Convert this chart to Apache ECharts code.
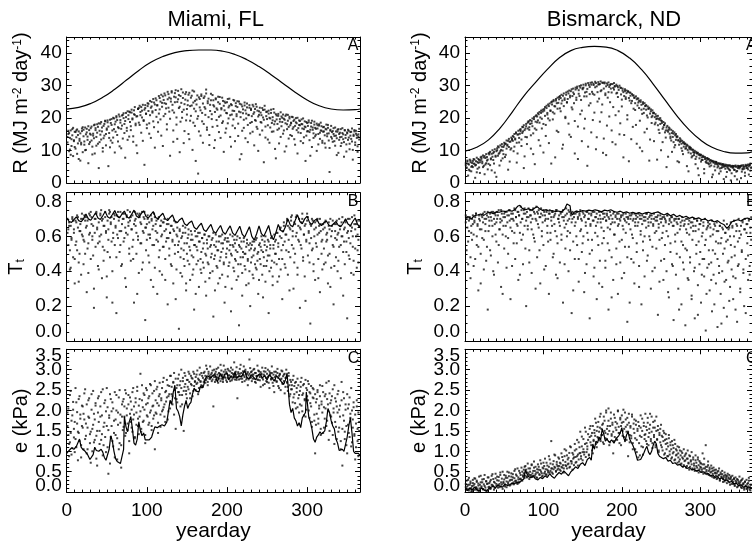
<!DOCTYPE html>
<html>
<head>
<meta charset="utf-8">
<title>Miami / Bismarck daily radiation, transmissivity, vapour pressure</title>
<script src="https://cdn.jsdelivr.net/npm/echarts@6.0.0/dist/echarts.min.js"></script>
<style>
  html, body { margin: 0; padding: 0; background: #fff; }
  #chart { width: 752px; height: 543px; }
</style>
</head>
<body>
<div id="chart"></div>
<script>
// ---- data (dots: one value per yearday, starting at day 1; two years per site) ----
const sites = ['Miami, FL', 'Bismarck, ND']
const panelLetters = ['A', 'B', 'C']

// panel A: daily radiation R (MJ m-2 day-1)
const miamiR = [
  12.5, 15.1, 9.8, 13.9, 16.2, 11.4, 14.7, 8.3, 13.2, 15.8,
  10.6, 14.1, 16.5, 12.2, 7.4, 13.6, 15.3, 11.9, 16.8, 9.5,
  14.4, 12.8, 17.1, 10.2, 15.6, 13.3, 6.1, 16.3, 12.6, 14.9,
  17.4, 11.2, 15.2, 13.8, 9.1, 16.9, 14.2, 18.1, 12.1, 4.6,
  16.1, 18.3, 13.4, 15.9, 10.8, 17.6, 14.6, 19.2, 11.6, 16.4,
  18.7, 5.2, 15.4, 19.5, 13.1, 17.9, 12.4, 20.1, 16.6, 9.4,
  18.9, 20.6, 14.8, 17.2, 21.1, 11.3, 19.4, 16.7, 20.8, 13.7,
  21.5, 18.2, 7.8, 20.3, 16.1, 22.1, 19.7, 14.3, 21.8, 17.5,
  22.6, 19.9, 12.7, 21.2, 23.4, 17.8, 20.5, 9.2, 22.9, 18.6,
  23.8, 20.9, 15.5, 22.3, 24.1, 19.1, 5.6, 23.1, 21.4, 16.9,
  24.6, 22.2, 18.4, 25.3, 13.9, 23.6, 21.7, 25.9, 17.2, 24.2,
  26.1, 20.4, 23.9, 15.8, 26.8, 22.7, 19.6, 27.2, 24.7, 11.4,
  25.6, 27.6, 21.3, 24.4, 18.1, 28.1, 23.2, 26.3, 8.4, 25.1,
  27.9, 22.4, 16.2, 26.6, 24.9, 28.6, 20.2, 13.6, 25.8, 27.1,
  23.5, 18.9, 28.9, 21.9, 26.2, 12.3, 24.3, 27.4, 19.3, 22.8,
  25.4, 15.1, 27.8, 23.7, 20.7, 26.9, 10.2, 24.8, 28.2, 17.6,
  22.1, 25.7, 19.8, 2.9, 26.4, 23.3, 14.6, 27.3, 21.6, 24.5,
  18.2, 26.7, 22.9, 28.8, 16.4, 25.2, 20.3, 11.7, 24.1, 27.5,
  21.2, 17.3, 25.5, 23.6, 13.2, 26.1, 19.4, 22.6, 24.9, 15.7,
  26.5, 20.8, 23.1, 18.5, 25.3, 9.6, 22.4, 24.7, 16.8, 21.5,
  25.9, 19.9, 23.8, 14.2, 24.3, 21.1, 17.7, 25.6, 22.2, 12.9,
  24.6, 20.6, 23.4, 18.3, 25.1, 7.3, 21.8, 24.2, 16.1, 22.7,
  19.5, 23.9, 13.8, 21.4, 24.5, 17.9, 20.9, 23.2, 15.3, 22.5,
  18.8, 24.1, 21.3, 11.6, 22.8, 19.2, 23.5, 16.7, 20.5, 22.1,
  14.9, 21.7, 18.6, 23.1, 20.2, 6.4, 22.6, 17.4, 21.9, 19.7,
  13.4, 22.3, 20.1, 17.1, 21.6, 15.8, 19.3, 22.8, 18.1, 10.5,
  21.2, 19.6, 16.4, 20.7, 12.2, 18.9, 21.8, 17.5, 20.1, 15.2,
  19.8, 9.7, 18.4, 21.1, 16.6, 19.2, 13.7, 20.4, 17.8, 18.6,
  14.5, 20.3, 17.2, 19.5, 11.8, 18.7, 16.3, 20.1, 15.6, 17.9,
  19.1, 12.9, 18.2, 16.8, 19.9, 14.1, 17.4, 6.8, 18.8, 15.9,
  17.6, 19.3, 13.2, 16.4, 18.5, 11.1, 17.1, 15.3, 18.9, 14.4,
  16.7, 9.9, 17.8, 15.1, 18.1, 13.6, 16.2, 17.5, 12.4, 15.8,
  17.3, 14.7, 10.9, 16.5, 15.2, 17.9, 13.1, 3.4, 16.1, 14.2,
  15.7, 12.7, 16.9, 14.5, 11.5, 15.9, 13.8, 16.4, 9.3, 15.1,
  14.1, 16.6, 12.3, 15.4, 13.5, 8.1, 16.2, 14.8, 11.9, 15.6,
  13.3, 16.1, 10.4, 14.6, 15.8, 12.8, 7.2, 14.9, 16.3, 11.7,
  15.2, 13.9, 9.6, 14.3, 16.7
]
const miamiR2 = [
  14.2, 16.1, 15.4, 10.3, 8.7, 13.5, 16.6, 17.0, 12.9, 11.1,
  15.7, 16.2, 9.0, 14.8, 15.9, 13.0, 6.9, 12.4, 16.0, 17.2,
  16.4, 11.8, 10.1, 15.0, 16.7, 14.3, 17.5, 12.0, 15.2, 16.9,
  13.1, 8.8, 14.6, 17.8, 18.0, 16.3, 11.5, 15.5, 17.3, 18.4,
  12.6, 14.9, 18.8, 17.1, 9.7, 13.8, 18.2, 19.0, 15.1, 16.8,
  19.3, 17.4, 13.9, 11.0, 18.5, 19.7, 16.2, 14.0, 19.9, 18.1,
  15.8, 20.2, 19.4, 12.8, 16.9, 20.5, 18.6, 10.7, 17.7, 21.0,
  20.0, 15.4, 19.1, 21.6, 17.0, 13.3, 20.9, 22.0, 18.8, 16.3,
  21.7, 19.6, 14.4, 22.4, 21.0, 18.3, 11.6, 20.6, 22.8, 23.1,
  17.9, 21.9, 23.4, 20.2, 13.0, 19.4, 22.6, 24.0, 21.3, 18.0,
  23.7, 24.4, 15.2, 20.9, 23.2, 25.0, 22.1, 19.0, 24.8, 10.9,
  22.5, 25.5, 24.0, 18.7, 21.4, 26.2, 25.1, 14.6, 23.5, 26.7,
  20.6, 24.6, 27.0, 23.0, 16.5, 25.8, 27.4, 22.0, 19.8, 26.0,
  28.3, 24.1, 12.7, 21.7, 27.7, 26.4, 18.0, 25.0, 28.4, 23.1,
  9.5, 26.8, 24.7, 20.1, 27.9, 22.6, 16.0, 25.7, 28.0, 21.1,
  24.0, 27.2, 13.5, 19.2, 26.3, 23.9, 28.5, 18.6, 22.9, 25.3,
  6.8, 24.2, 27.0, 20.6, 15.9, 25.9, 22.4, 26.8, 19.0, 12.4,
  26.2, 23.4, 21.0, 27.6, 17.1, 24.6, 26.0, 14.8, 22.2, 25.5,
  19.7, 27.1, 24.0, 10.8, 21.9, 25.8, 23.0, 17.6, 26.6, 20.4,
  24.4, 13.9, 22.7, 26.3, 19.0, 23.8, 25.1, 15.5, 21.6, 24.9,
  18.4, 23.3, 26.0, 20.9, 11.2, 24.0, 22.3, 19.6, 25.4, 16.9,
  23.7, 21.2, 25.2, 14.5, 22.0, 24.4, 20.3, 8.9, 23.6, 21.5,
  17.0, 24.8, 22.4, 19.9, 23.3, 12.6, 21.0, 24.0, 18.5, 22.9,
  20.6, 15.8, 23.6, 21.8, 19.4, 24.3, 17.3, 22.3, 9.9, 21.0,
  23.2, 18.8, 20.9, 16.2, 22.5, 19.5, 23.8, 14.0, 20.6, 22.0,
  17.8, 21.4, 12.4, 19.9, 22.6, 18.5, 20.3, 15.9, 21.7, 19.0,
  7.6, 20.8, 18.2, 21.3, 16.8, 19.7, 14.2, 20.5, 18.8, 21.1,
  16.2, 19.5, 20.7, 11.3, 18.1, 21.0, 17.3, 19.9, 14.8, 18.4,
  20.4, 16.7, 19.1, 13.5, 17.6, 20.0, 18.4, 9.1, 16.9, 19.3,
  17.8, 15.4, 19.6, 18.1, 12.3, 16.6, 19.0, 17.2, 14.6, 18.5,
  16.0, 18.7, 15.7, 8.4, 17.4, 19.2, 16.4, 13.9, 18.0, 17.0,
  14.9, 18.3, 16.8, 11.9, 17.7, 15.5, 18.6, 16.1, 13.0, 17.2,
  15.9, 12.2, 16.7, 18.0, 14.4, 17.0, 15.3, 10.8, 16.4, 17.6,
  13.7, 16.0, 15.1, 12.9, 17.1, 14.6, 8.6, 15.8, 16.6, 13.3,
  15.5, 11.4, 14.2, 16.9, 15.0, 12.6, 16.3, 13.9, 9.7, 15.3,
  16.4, 14.0, 12.1, 15.7, 13.6, 16.8, 10.2, 14.5, 15.9, 12.5,
  16.1, 14.7, 11.3, 15.0, 13.4
]
const bismarckR = [
  6.1, 4.8, 6.9, 2.3, 5.7, 7.2, 6.4, 3.6, 5.2, 6.8,
  7.4, 5.9, 1.6, 6.7, 7.8, 4.4, 6.2, 7.1, 3.1, 7.9,
  8.1, 6.6, 8.5, 5.3, 2.7, 7.7, 8.9, 6.9, 4.2, 9.1,
  8.8, 9.6, 7.3, 3.9, 10.1, 9.2, 6.0, 10.4, 8.1, 1.9,
  10.7, 11.3, 9.0, 5.4, 11.6, 10.2, 12.0, 7.6, 11.1, 12.4,
  12.1, 8.7, 13.1, 11.8, 4.1, 13.6, 12.7, 10.3, 14.0, 13.3,
  14.5, 9.8, 15.1, 13.7, 15.6, 6.3, 14.9, 16.1, 12.5, 16.4,
  16.6, 11.4, 17.3, 15.9, 17.8, 8.2, 16.8, 18.2, 14.1, 18.6,
  18.9, 17.2, 19.4, 10.6, 18.4, 19.9, 15.3, 20.3, 5.8, 20.6,
  20.9, 18.7, 21.5, 13.2, 21.9, 20.2, 22.3, 16.8, 22.6, 9.4,
  22.8, 23.4, 17.9, 23.8, 21.1, 24.2, 12.3, 24.5, 22.4, 24.9,
  25.1, 19.6, 25.6, 23.7, 7.9, 25.9, 24.6, 26.3, 15.7, 26.5,
  26.8, 22.1, 27.2, 25.4, 11.8, 27.6, 26.1, 20.4, 27.9, 24.8,
  28.2, 18.3, 28.5, 26.9, 14.2, 28.9, 22.7, 29.1, 27.4, 9.1,
  29.4, 25.6, 29.7, 17.4, 28.6, 29.9, 21.2, 30.1, 12.9, 29.2,
  30.3, 26.7, 19.8, 30.6, 28.1, 5.3, 30.8, 23.9, 29.6, 30.9,
  15.6, 31.0, 27.5, 30.2, 21.7, 31.2, 10.4, 29.8, 25.1, 31.1,
  30.4, 18.9, 31.3, 28.6, 24.2, 30.9, 13.7, 31.0, 27.1, 8.6,
  30.7, 26.3, 31.0, 20.5, 30.2, 29.1, 16.2, 30.5, 23.4, 30.8,
  29.9, 11.9, 30.3, 27.8, 29.5, 22.1, 30.0, 18.4, 29.3, 25.7,
  29.1, 28.0, 14.8, 28.9, 26.4, 28.5, 20.9, 28.3, 6.7, 27.9,
  27.8, 24.6, 27.4, 17.3, 27.0, 26.2, 22.5, 26.7, 12.1, 26.1,
  26.0, 25.3, 19.2, 25.5, 24.1, 9.8, 24.9, 21.6, 24.6, 23.8,
  24.0, 16.7, 23.6, 22.9, 23.2, 13.4, 22.7, 20.3, 22.4, 21.7,
  21.6, 18.1, 21.2, 20.6, 7.2, 20.7, 19.8, 15.4, 20.0, 19.3,
  19.1, 12.6, 18.8, 17.9, 18.4, 16.2, 4.9, 17.6, 15.8, 17.1,
  16.8, 14.3, 16.4, 9.6, 16.0, 15.2, 15.6, 11.7, 15.1, 14.4,
  14.3, 13.2, 6.4, 13.8, 13.4, 12.1, 13.0, 8.9, 12.6, 12.2,
  12.1, 10.7, 11.8, 11.5, 3.6, 11.2, 10.4, 10.8, 7.9, 10.3,
  10.2, 9.4, 9.9, 5.8, 9.6, 9.1, 9.3, 2.4, 8.9, 8.6,
  8.7, 7.1, 8.4, 8.2, 4.3, 8.0, 7.6, 6.2, 7.7, 7.3,
  7.4, 5.1, 7.1, 6.9, 1.8, 6.8, 6.4, 6.6, 3.9, 6.5,
  6.3, 5.7, 6.1, 2.9, 5.9, 6.0, 4.6, 5.8, 5.5, 1.2,
  5.7, 5.2, 5.6, 3.4, 5.5, 5.3, 4.1, 5.4, 0.8, 5.2,
  5.3, 4.7, 5.2, 2.1, 5.4, 5.0, 3.7, 5.3, 4.9, 5.1,
  5.2, 1.5, 5.4, 4.4, 5.5, 5.0, 3.2, 5.6, 5.3, 4.6,
  5.7, 2.6, 5.5, 6.0, 4.8
]
const bismarckR2 = [
  5.5, 4.6, 6.6, 5.9, 4.1, 3.8, 6.9, 5.0, 6.2, 4.9,
  6.0, 7.2, 5.4, 5.6, 3.3, 6.5, 7.4, 4.8, 6.4, 7.0,
  7.5, 6.1, 4.9, 7.9, 8.3, 5.7, 6.1, 8.0, 7.2, 5.9,
  9.3, 5.5, 7.6, 9.0, 8.1, 7.1, 9.6, 3.2, 8.4, 9.8,
  10.1, 8.4, 11.0, 9.3, 9.8, 6.9, 11.2, 10.0, 8.9, 11.6,
  8.0, 12.1, 10.6, 11.5, 13.0, 11.1, 6.6, 12.8, 10.7, 13.6,
  13.0, 14.2, 11.2, 13.4, 15.3, 12.4, 9.1, 15.0, 13.9, 15.2,
  16.0, 13.4, 15.4, 17.2, 4.6, 16.3, 14.2, 17.5, 12.0, 16.8,
  19.0, 16.4, 18.2, 14.7, 19.1, 17.5, 8.9, 19.7, 16.8, 18.9,
  16.4, 20.5, 19.3, 21.2, 18.6, 11.5, 21.6, 19.8, 22.0, 18.2,
  22.3, 20.7, 14.5, 23.1, 21.6, 19.9, 23.7, 19.3, 22.2, 6.0,
  24.2, 21.8, 25.2, 21.4, 23.6, 25.4, 16.1, 22.9, 24.7, 25.8,
  23.0, 26.2, 24.5, 10.6, 26.9, 23.7, 25.6, 20.0, 27.2, 24.9,
  25.9, 27.6, 14.9, 26.4, 28.3, 23.3, 26.8, 27.9, 24.6, 19.1,
  28.8, 26.3, 29.2, 7.4, 27.5, 26.8, 29.4, 25.6, 22.3, 28.9,
  29.4, 16.8, 27.9, 30.1, 26.7, 29.0, 11.2, 30.2, 27.4, 24.6,
  30.3, 28.1, 19.4, 30.6, 27.2, 29.5, 30.8, 14.1, 28.0, 30.4,
  26.0, 30.5, 28.3, 21.8, 30.9, 9.3, 29.1, 30.7, 27.6, 29.8,
  17.7, 30.2, 28.0, 29.6, 24.9, 30.5, 27.9, 12.6, 29.3, 28.8,
  29.7, 20.9, 27.6, 29.9, 26.5, 28.7, 15.0, 29.4, 27.3, 23.6,
  28.5, 7.9, 26.8, 28.4, 25.9, 27.7, 19.6, 28.1, 26.2, 25.4,
  26.9, 13.5, 25.3, 27.0, 22.9, 26.4, 24.6, 17.9, 25.8, 23.9,
  24.8, 23.1, 10.9, 25.0, 22.6, 21.3, 24.4, 22.9, 15.6, 23.7,
  22.6, 20.8, 20.2, 22.9, 6.9, 21.4, 22.1, 18.5, 20.7, 21.5,
  12.9, 20.3, 18.6, 19.7, 19.9, 17.8, 16.4, 19.5, 18.2, 10.1,
  18.5, 16.7, 17.2, 17.9, 15.6, 14.0, 17.1, 16.2, 8.1, 16.4,
  15.2, 13.8, 13.1, 15.4, 14.2, 12.6, 11.0, 14.7, 13.3, 14.1,
  6.7, 13.1, 11.8, 12.7, 12.9, 10.7, 9.9, 12.4, 11.2, 12.0,
  10.6, 11.3, 5.2, 10.2, 9.4, 10.8, 11.0, 9.1, 10.3, 8.3,
  9.5, 8.6, 9.3, 7.4, 8.1, 9.2, 4.5, 8.7, 7.6, 8.5,
  6.6, 7.9, 7.1, 8.0, 3.0, 7.4, 6.5, 6.9, 7.5, 6.1,
  5.8, 6.8, 6.2, 5.4, 6.7, 2.6, 6.3, 5.1, 5.9, 6.4,
  5.9, 4.8, 5.2, 6.0, 4.5, 3.6, 5.6, 4.9, 5.8, 5.0,
  5.3, 4.4, 1.9, 5.1, 4.7, 4.4, 5.4, 3.9, 5.0, 3.0,
  4.8, 5.2, 4.1, 4.0, 5.1, 3.5, 1.1, 4.6, 5.2, 4.5,
  4.9, 5.3, 3.5, 4.2, 5.0, 4.4, 2.2, 5.2, 4.6, 5.4,
  4.2, 5.1, 5.6, 3.8, 4.7
]
// clear-sky radiation curves [yearday, R]
const miamiRClear = [
  [0, 22.8], [15, 23.3], [30, 24.5], [45, 26.4], [60, 28.9], [75, 31.8], [90, 34.7],
  [105, 37.2], [120, 39.0], [135, 40.2], [150, 40.8], [165, 41.0], [180, 41.0],
  [195, 40.6], [210, 39.6], [225, 38.0], [240, 35.9], [255, 33.4], [270, 30.7],
  [285, 28.0], [300, 25.6], [315, 23.8], [330, 22.8], [345, 22.5], [360, 22.6], [366, 22.8]
]
const bismarckRClear = [
  [0, 9.8], [15, 11.0], [30, 13.3], [45, 17.0], [60, 21.8], [75, 26.8], [90, 31.0],
  [105, 35.0], [120, 38.5], [135, 40.8], [150, 41.8], [165, 42.1], [180, 41.9],
  [195, 40.8], [210, 38.5], [225, 35.0], [240, 30.5], [255, 25.6], [270, 20.8],
  [285, 16.6], [300, 13.3], [315, 11.0], [330, 9.7], [345, 9.2], [360, 9.3], [366, 9.6]
]

// panel B: transmissivity Tt
const miamiT = [
  .62, .55, .68, .41, .66, .59, .70, .48, .64, .33,
  .69, .57, .52, .71, .45, .63, .67, .38, .61, .70,
  .58, .72, .50, .65, .28, .69, .56, .73, .62, .47,
  .71, .60, .66, .19, .70, .54, .74, .64, .43, .68,
  .57, .73, .61, .36, .70, .66, .52, .74, .63, .25,
  .69, .58, .75, .48, .67, .71, .40, .62, .73, .55,
  .66, .16, .72, .59, .69, .51, .74, .63, .44, .70,
  .57, .73, .65, .31, .71, .61, .68, .53, .74, .46,
  .64, .72, .58, .22, .69, .66, .50, .73, .60, .39,
  .71, .56, .67, .74, .45, .62, .70, .12, .65, .58,
  .72, .49, .68, .61, .35, .70, .55, .66, .73, .42,
  .63, .69, .27, .57, .71, .52, .66, .60, .38, .68,
  .54, .70, .47, .64, .59, .21, .67, .53, .62, .44,
  .66, .57, .33, .63, .50, .68, .41, .60, .55, .07,
  .64, .48, .59, .37, .62, .52, .43, .65, .29, .56,
  .46, .61, .54, .35, .63, .49, .58, .41, .18, .55,
  .60, .44, .52, .62, .31, .57, .47, .39, .59, .53,
  .42, .61, .50, .26, .56, .45, .60, .36, .54, .48,
  .58, .40, .14, .55, .49, .61, .43, .52, .33, .57,
  .46, .60, .51, .38, .56, .44, .22, .59, .48, .53,
  .37, .57, .45, .61, .50, .30, .55, .42, .58, .47,
  .52, .35, .60, .44, .09, .54, .48, .57, .39, .51,
  .59, .43, .50, .32, .56, .46, .55, .40, .20, .53,
  .48, .57, .36, .52, .44, .58, .41, .50, .27, .55,
  .47, .54, .60, .38, .51, .43, .57, .34, .52, .46,
  .58, .16, .49, .55, .42, .60, .37, .53, .45, .57,
  .50, .62, .34, .56, .47, .64, .41, .59, .24, .55,
  .66, .44, .61, .52, .69, .38, .58, .65, .48, .71,
  .55, .63, .30, .68, .50, .60, .72, .42, .66, .57,
  .19, .64, .53, .70, .46, .61, .37, .67, .58, .73,
  .49, .63, .56, .10, .66, .52, .69, .44, .60, .35,
  .65, .54, .70, .47, .62, .28, .67, .57, .41, .64,
  .53, .68, .45, .61, .58, .33, .66, .50, .70, .42,
  .63, .55, .21, .67, .59, .48, .69, .40, .62, .54,
  .66, .36, .60, .71, .51, .64, .44, .68, .57, .13,
  .63, .49, .70, .56, .39, .65, .60, .46, .72, .53,
  .67, .42, .61, .58, .69
]
const miamiT2 = [
  .70, .64, .66, .52, .42, .58, .71, .69, .62, .47,
  .55, .68, .72, .65, .34, .50, .63, .70, .73, .60,
  .44, .57, .69, .71, .66, .53, .39, .61, .72, .74,
  .67, .58, .49, .30, .62, .70, .73, .65, .56, .41,
  .60, .72, .75, .69, .54, .46, .66, .71, .62, .37,
  .51, .64, .73, .74, .68, .57, .22, .59, .70, .72,
  .65, .48, .61, .74, .71, .63, .55, .43, .67, .73,
  .70, .59, .36, .62, .72, .75, .66, .50, .69, .71,
  .64, .54, .47, .67, .74, .70, .62, .27, .58, .72,
  .73, .68, .56, .41, .63, .71, .74, .65, .52, .67,
  .70, .61, .45, .59, .72, .69, .64, .31, .55, .71,
  .67, .58, .62, .70, .48, .40, .66, .69, .61, .54,
  .68, .63, .35, .57, .67, .70, .59, .49, .62, .66,
  .43, .58, .64, .69, .55, .24, .61, .65, .51, .57,
  .63, .39, .53, .60, .66, .47, .56, .62, .33, .50,
  .59, .64, .44, .52, .58, .61, .38, .48, .55, .63,
  .27, .54, .60, .46, .57, .62, .41, .51, .59, .45,
  .56, .61, .34, .49, .58, .53, .44, .60, .39, .55,
  .50, .59, .62, .47, .29, .54, .57, .42, .52, .60,
  .36, .48, .56, .61, .53, .45, .58, .31, .50, .57,
  .59, .43, .52, .55, .17, .49, .60, .54, .40, .56,
  .46, .58, .51, .37, .55, .59, .44, .53, .26, .48,
  .57, .50, .41, .54, .58, .47, .33, .52, .56, .45,
  .55, .38, .49, .57, .53, .42, .59, .46, .51, .35,
  .56, .44, .52, .58, .25, .48, .55, .60, .43, .54,
  .49, .57, .40, .53, .59, .46, .32, .55, .61, .50,
  .58, .44, .62, .54, .37, .60, .65, .52, .47, .63,
  .68, .57, .42, .61, .70, .66, .51, .29, .64, .69,
  .72, .60, .53, .45, .67, .71, .62, .38, .58, .70,
  .65, .55, .68, .73, .48, .61, .66, .23, .57, .69,
  .71, .62, .45, .67, .59, .70, .53, .40, .64, .68,
  .56, .69, .61, .36, .66, .70, .63, .50, .58, .67,
  .44, .65, .69, .57, .62, .49, .68, .64, .31, .60,
  .66, .69, .54, .43, .63, .67, .58, .61, .46, .70,
  .64, .55, .68, .60, .26, .57, .65, .69, .51, .62,
  .70, .59, .47, .66, .63, .71, .54, .38, .67, .64,
  .60, .69, .52, .45, .66
]
const bismarckT = [
  .68, .52, .71, .44, .63, .70, .36, .66, .58, .72,
  .61, .69, .47, .73, .55, .67, .29, .70, .64, .50,
  .72, .59, .68, .41, .74, .63, .70, .54, .18, .71,
  .66, .73, .49, .69, .60, .74, .38, .67, .72, .57,
  .70, .45, .75, .64, .68, .31, .73, .61, .71, .53,
  .74, .66, .42, .72, .59, .75, .69, .24, .73, .63,
  .70, .56, .76, .47, .71, .67, .74, .35, .72, .62,
  .77, .58, .70, .44, .75, .66, .73, .20, .71, .64,
  .76, .52, .72, .68, .39, .75, .61, .74, .57, .70,
  .77, .48, .73, .65, .71, .33, .76, .60, .72, .55,
  .74, .69, .43, .75, .62, .70, .27, .73, .58, .71,
  .66, .74, .50, .72, .63, .38, .75, .56, .70, .68,
  .45, .73, .61, .74, .22, .71, .65, .53, .76, .60,
  .69, .40, .74, .62, .72, .16, .70, .57, .73, .47,
  .68, .74, .55, .71, .34, .73, .63, .70, .51, .74,
  .60, .28, .72, .66, .44, .74, .58, .70, .13, .67,
  .73, .52, .69, .37, .74, .62, .71, .24, .68, .55,
  .74, .46, .70, .65, .31, .73, .59, .71, .42, .69,
  .73, .56, .18, .70, .64, .72, .48, .68, .35, .74,
  .61, .71, .53, .73, .27, .67, .70, .45, .72, .58,
  .66, .73, .39, .69, .62, .71, .11, .70, .54, .72,
  .64, .47, .73, .59, .70, .33, .68, .72, .51, .66,
  .73, .43, .70, .61, .21, .72, .57, .69, .37, .71,
  .65, .73, .49, .68, .60, .72, .30, .70, .54, .66,
  .73, .42, .69, .63, .71, .15, .67, .58, .72, .46,
  .70, .62, .35, .71, .55, .68, .40, .72, .60, .25,
  .69, .51, .71, .44, .66, .12, .70, .57, .38, .68,
  .62, .30, .70, .48, .66, .21, .69, .55, .41, .67,
  .09, .64, .52, .70, .35, .61, .45, .68, .26, .58,
  .66, .40, .13, .63, .50, .69, .32, .57, .44, .67,
  .22, .60, .47, .68, .37, .55, .06, .64, .42, .66,
  .52, .29, .65, .45, .17, .61, .38, .67, .50, .33,
  .63, .08, .56, .43, .66, .27, .59, .40, .64, .19,
  .53, .62, .35, .14, .58, .46, .65, .31, .55, .41,
  .66, .24, .60, .49, .36, .67, .11, .57, .44, .63,
  .30, .61, .52, .69, .39, .20, .64, .47, .67, .56,
  .35, .70, .43, .62, .58
]
const bismarckT2 = [
  .72, .70, .65, .57, .69, .71, .48, .62, .70, .67,
  .43, .68, .71, .73, .60, .66, .54, .72, .69, .33,
  .64, .71, .73, .58, .70, .67, .46, .72, .74, .63,
  .69, .52, .71, .74, .66, .40, .70, .73, .61, .68,
  .74, .72, .55, .64, .70, .75, .69, .27, .66, .73,
  .71, .60, .74, .68, .50, .72, .75, .65, .70, .43,
  .73, .69, .62, .75, .71, .56, .66, .74, .72, .38,
  .68, .75, .70, .61, .73, .76, .53, .69, .74, .66,
  .71, .45, .75, .72, .64, .70, .76, .59, .73, .30,
  .69, .74, .67, .75, .52, .71, .73, .63, .68, .75,
  .41, .72, .70, .74, .66, .57, .73, .75, .62, .69,
  .74, .48, .71, .67, .73, .75, .60, .36, .70, .72,
  .66, .74, .58, .71, .75, .69, .44, .72, .67, .73,
  .63, .75, .70, .52, .73, .68, .74, .29, .71, .66,
  .73, .60, .74, .70, .47, .72, .75, .64, .69, .56,
  .73, .71, .39, .68, .74, .62, .70, .73, .50, .66,
  .72, .58, .74, .69, .42, .71, .66, .73, .60, .70,
  .33, .72, .68, .74, .56, .70, .63, .73, .46, .69,
  .72, .65, .71, .52, .74, .67, .25, .70, .73, .61,
  .68, .72, .44, .70, .66, .73, .57, .69, .71, .36,
  .72, .64, .70, .54, .73, .68, .48, .71, .67, .22,
  .70, .72, .61, .69, .45, .73, .66, .70, .56, .71,
  .68, .31, .72, .63, .70, .67, .52, .71, .60, .69,
  .73, .46, .70, .66, .71, .58, .68, .72, .40, .67,
  .70, .62, .71, .53, .69, .72, .65, .34, .70, .68,
  .59, .71, .66, .47, .70, .69, .63, .72, .28, .67,
  .70, .56, .68, .71, .43, .66, .69, .61, .70, .50,
  .67, .70, .18, .64, .68, .57, .71, .45, .66, .69,
  .53, .70, .62, .36, .67, .69, .48, .65, .24, .68,
  .63, .70, .42, .66, .55, .69, .15, .64, .67, .51,
  .69, .38, .62, .66, .47, .70, .58, .27, .65, .68,
  .44, .67, .60, .35, .69, .52, .64, .21, .66, .57,
  .68, .47, .63, .39, .66, .56, .10, .65, .50, .69,
  .34, .62, .57, .67, .45, .64, .23, .60, .68, .48,
  .65, .37, .69, .54, .18, .63, .66, .43, .70, .59,
  .28, .66, .51, .68, .41, .64, .70, .16, .62, .67,
  .49, .69, .38, .65, .71
]
// upper envelope (max transmissivity) [yearday, Tt]
const miamiTMax = [
  [0, .705], [3, .685], [6, .680], [9, .695], [12, .712], [15, .690], [18, .683], [21, .700],
  [24, .728], [27, .700], [30, .692], [33, .712], [36, .735], [39, .705], [42, .697], [45, .718],
  [48, .742], [51, .712], [54, .703], [57, .725], [60, .748], [63, .715], [66, .706], [69, .728],
  [72, .745], [75, .712], [78, .704], [81, .726], [84, .750], [87, .716], [90, .707], [93, .730],
  [96, .746], [99, .713], [102, .705], [105, .725], [108, .742], [111, .708], [114, .700], [117, .718],
  [120, .732], [123, .700], [126, .690], [129, .708], [132, .722], [135, .688], [138, .678], [141, .695],
  [144, .705], [147, .672], [150, .662], [153, .678], [156, .688], [159, .652], [162, .640], [165, .660],
  [168, .675], [171, .638], [174, .628], [177, .650], [180, .668], [183, .630], [186, .618], [189, .642],
  [192, .662], [195, .625], [198, .612], [201, .638], [204, .660], [207, .620], [210, .605], [213, .632],
  [216, .658], [219, .612], [222, .595], [225, .625], [228, .655], [231, .600], [234, .578], [237, .615],
  [240, .660], [243, .615], [246, .600], [249, .630], [252, .662], [255, .605], [258, .580], [261, .620],
  [264, .668], [267, .635], [270, .625], [273, .655], [276, .700], [279, .665], [282, .655], [285, .690],
  [288, .722], [291, .685], [294, .672], [297, .700], [300, .715], [303, .680], [306, .668], [309, .690],
  [312, .700], [315, .672], [318, .662], [321, .678], [324, .688], [327, .665], [330, .658], [333, .672],
  [336, .685], [339, .662], [342, .655], [345, .675], [348, .700], [351, .670], [354, .660], [357, .685],
  [360, .705], [363, .668], [366, .650]
]
const bismarckTMax = [
  [0, .705], [4, .712], [8, .700], [12, .718], [16, .722], [20, .728], [24, .720], [28, .733],
  [32, .738], [36, .730], [40, .740], [44, .738], [48, .745], [52, .742], [56, .748], [60, .744],
  [64, .755], [67, .772], [70, .778], [73, .760], [77, .752], [81, .758], [85, .750], [89, .762],
  [92, .770], [95, .758], [99, .748], [103, .752], [107, .745], [111, .748], [115, .742], [119, .745],
  [123, .740], [127, .755], [130, .785], [132, .792], [134, .775], [135, .740], [137, .722], [139, .738],
  [142, .745], [146, .740], [150, .748], [154, .744], [158, .750], [162, .746], [166, .752], [170, .747],
  [174, .740], [178, .750], [182, .746], [186, .752], [190, .742], [194, .738], [198, .744], [202, .735],
  [206, .740], [210, .732], [214, .738], [218, .730], [222, .736], [226, .728], [230, .734], [234, .738],
  [238, .730], [242, .735], [246, .740], [250, .730], [254, .722], [258, .732], [262, .718], [266, .726],
  [270, .712], [274, .720], [278, .708], [282, .715], [286, .703], [290, .710], [294, .700], [298, .706],
  [302, .695], [306, .700], [310, .688], [314, .694], [318, .682], [322, .690], [326, .676], [330, .668],
  [334, .645], [337, .660], [340, .682], [344, .690], [348, .695], [352, .688], [356, .700], [360, .705],
  [364, .698], [366, .700]
]

// panel C: vapour pressure e (kPa)
const miamiE = [
  1.62, 2.05, 1.18, 2.38, 1.45, 0.92, 1.88, 2.21, 1.34, 1.72,
  2.55, 1.10, 1.96, 1.48, 2.28, 1.25, 1.80, 0.85, 2.12, 1.58,
  1.92, 2.42, 1.30, 1.68, 2.15, 1.05, 1.85, 2.30, 1.42, 0.72,
  2.02, 1.55, 2.48, 1.22, 1.78, 2.18, 1.38, 0.65, 1.95, 2.35,
  1.50, 2.10, 1.28, 1.88, 2.52, 1.15, 1.70, 2.25, 0.98, 1.62,
  2.08, 0.45, 1.82, 2.40, 1.35, 1.98, 2.20, 1.12, 1.75, 2.45,
  1.40, 2.00, 0.80, 1.65, 2.32, 1.20, 1.90, 0.60, 2.15, 1.52,
  2.28, 1.85, 2.50, 1.45, 2.05, 1.68, 2.38, 0.95, 1.92, 2.22,
  1.58, 2.45, 1.78, 2.10, 1.32, 2.30, 1.95, 2.58, 1.62, 2.12,
  1.85, 2.90, 1.48, 2.25, 1.72, 2.42, 2.02, 1.40, 2.55, 1.88,
  2.18, 1.65, 2.35, 1.95, 2.62, 1.52, 2.10, 1.80, 2.48, 1.05,
  2.25, 1.92, 2.58, 1.70, 2.12, 2.40, 1.60, 2.30, 1.98, 2.70,
  2.08, 1.85, 2.45, 2.22, 2.75, 1.78, 2.35, 2.60, 2.05, 2.85,
  2.40, 2.15, 2.68, 2.92, 2.30, 1.55, 2.55, 2.20, 2.78, 2.45,
  2.62, 2.10, 3.00, 2.38, 2.72, 1.50, 2.58, 2.85, 2.48, 2.30,
  2.75, 2.52, 2.90, 2.42, 2.65, 2.80, 2.35, 2.95, 2.60, 2.70,
  2.50, 2.88, 2.68, 2.78, 2.55, 3.05, 2.72, 2.62, 2.85, 2.58,
  2.92, 2.75, 2.68, 3.10, 2.80, 2.70, 2.95, 2.85, 2.78, 2.88,
  2.72, 2.98, 2.10, 2.82, 2.90, 2.75, 3.02, 2.80, 2.68, 2.92,
  2.85, 3.12, 2.78, 2.88, 2.70, 2.95, 2.82, 3.00, 2.74, 2.90,
  2.80, 2.98, 2.86, 2.72, 3.05, 2.92, 2.78, 2.88, 3.18, 2.82,
  2.95, 2.75, 2.30, 2.90, 2.84, 3.02, 2.78, 2.92, 2.70, 2.88,
  3.08, 2.82, 2.95, 2.76, 2.90, 2.62, 2.86, 3.25, 2.80, 2.94,
  2.72, 2.88, 3.00, 2.78, 2.92, 2.68, 2.85, 3.10, 2.75, 2.96,
  2.82, 2.58, 2.90, 3.05, 2.76, 2.88, 2.65, 2.95, 2.80, 2.70,
  3.00, 2.85, 2.55, 2.92, 2.78, 3.08, 2.68, 2.88, 2.45, 2.82,
  2.95, 2.72, 3.02, 2.60, 2.85, 2.90, 2.50, 2.78, 2.96, 2.65,
  2.88, 2.42, 2.80, 3.00, 2.70, 2.58, 2.92, 2.35, 2.75, 2.52,
  2.62, 2.20, 2.85, 2.40, 2.68, 2.05, 2.55, 2.78, 2.30, 1.95,
  2.48, 2.70, 2.12, 2.38, 2.62, 1.88, 2.28, 2.75, 2.02, 2.50,
  2.25, 2.65, 1.82, 2.42, 2.10, 1.60, 2.55, 2.30, 1.75, 0.95,
  2.20, 1.92, 2.45, 1.68, 2.05, 2.35, 1.55, 2.15, 2.60, 1.45,
  2.08, 1.80, 2.40, 1.62, 2.28, 1.98, 2.72, 1.50, 2.18, 1.85,
  2.35, 1.40, 2.05, 2.62, 1.72, 2.22, 1.30, 1.95, 2.48, 1.58,
  2.12, 1.25, 2.70, 0.65, 1.88, 2.30, 1.48, 2.02, 1.15, 2.40,
  1.65, 2.15, 1.35, 1.92, 2.55, 1.22, 1.78, 2.08, 1.42, 1.90,
  1.10, 2.25, 1.55, 0.88, 1.72
]
const miamiE2 = [
  1.95, 1.40, 0.88, 1.22, 2.48, 1.75, 1.08, 2.02, 1.55, 0.98,
  1.30, 2.20, 1.68, 0.78, 1.45, 2.35, 1.90, 1.15, 1.62, 2.10,
  1.05, 1.78, 2.52, 1.38, 0.95, 1.58, 2.25, 1.82, 1.20, 1.48,
  2.40, 1.00, 1.65, 1.92, 1.28, 2.12, 0.82, 1.50, 2.30, 1.72,
  1.18, 1.85, 2.45, 1.42, 0.90, 1.60, 2.18, 1.35, 1.98, 2.55,
  1.10, 1.52, 1.88, 0.70, 2.28, 1.62, 1.25, 2.05, 1.45, 0.85,
  1.78, 2.38, 1.32, 1.95, 1.05, 2.50, 1.70, 1.15, 1.85, 2.22,
  1.60, 2.10, 1.38, 2.42, 1.88, 1.52, 2.15, 1.25, 2.32, 1.72,
  2.02, 1.48, 2.55, 1.90, 1.35, 2.20, 1.65, 2.48, 1.80, 1.42,
  2.28, 1.98, 1.55, 2.62, 2.08, 1.75, 2.38, 1.20, 2.15, 2.50,
  1.85, 2.30, 1.70, 2.65, 2.00, 1.62, 2.42, 2.12, 1.88, 2.72,
  1.95, 2.52, 2.18, 1.45, 2.35, 2.68, 1.90, 2.25, 2.55, 2.02,
  2.80, 2.15, 1.72, 2.48, 2.32, 2.62, 1.98, 2.40, 2.85, 2.20,
  2.58, 2.35, 2.70, 1.90, 2.50, 2.78, 2.28, 2.62, 2.45, 2.88,
  2.38, 2.72, 2.55, 2.15, 2.80, 2.48, 2.92, 2.65, 2.40, 2.75,
  2.58, 2.95, 2.70, 2.30, 2.85, 2.62, 2.78, 2.48, 2.90, 2.72,
  2.82, 2.65, 2.98, 2.40, 2.75, 2.88, 2.70, 2.92, 2.60, 2.80,
  2.70, 2.95, 2.85, 2.75, 3.02, 2.62, 2.90, 2.78, 3.08, 2.82,
  2.92, 2.76, 2.86, 3.00, 2.70, 2.95, 2.82, 2.88, 3.05, 2.78,
  2.90, 2.72, 2.98, 2.84, 2.76, 3.10, 2.88, 2.80, 2.94, 2.70,
  3.02, 2.86, 2.78, 2.96, 2.82, 2.74, 3.00, 2.90, 2.84, 2.76,
  2.88, 3.06, 2.82, 2.94, 2.76, 2.90, 3.12, 2.84, 2.78, 2.96,
  2.86, 2.72, 3.00, 2.88, 2.80, 2.94, 2.76, 2.90, 3.04, 2.82,
  2.96, 2.78, 2.88, 3.02, 2.70, 2.92, 2.84, 2.76, 2.98, 2.86,
  2.74, 2.94, 2.88, 2.80, 2.62, 2.96, 2.85, 3.04, 2.72, 2.90,
  2.82, 2.68, 2.96, 2.88, 2.76, 2.92, 2.80, 2.60, 2.95, 2.74,
  2.86, 2.70, 2.92, 2.80, 2.55, 2.88, 2.76, 2.98, 2.66, 2.84,
  2.72, 2.90, 2.58, 2.80, 2.68, 2.48, 2.85, 2.62, 2.40, 2.70,
  2.52, 2.75, 2.32, 2.60, 2.18, 2.70, 2.45, 2.08, 2.62, 2.38,
  2.15, 2.58, 2.80, 1.98, 2.42, 2.65, 2.25, 1.85, 2.55, 2.35,
  2.72, 2.00, 2.45, 2.18, 2.60, 1.72, 2.32, 2.52, 1.90, 2.40,
  1.65, 2.28, 2.50, 1.80, 2.12, 2.62, 1.40, 2.22, 1.95, 2.45,
  1.58, 2.35, 2.05, 2.68, 1.75, 2.15, 1.28, 2.42, 1.88, 2.25,
  1.70, 2.52, 1.95, 1.18, 2.30, 1.60, 2.10, 2.40, 1.48, 2.02,
  1.85, 1.05, 2.25, 1.55, 2.45, 1.75, 1.30, 2.15, 1.62, 0.95,
  2.05, 1.45, 2.32, 1.82, 1.12, 2.00, 1.58, 2.20, 1.38, 0.80,
  1.68, 2.10, 1.25, 1.95, 1.50
]
const bismarckE = [
  .12, .28, .05, .18, .35, .08, .22, .02, .15, .30,
  .06, .20, .33, .10, .25, .04, .16, .38, .09, .24,
  .14, .31, .07, .19, .42, .11, .27, .03, .21, .36,
  .13, .26, .09, .40, .17, .32, .06, .23, .45, .15,
  .29, .11, .37, .20, .48, .14, .33, .08, .25, .42,
  .18, .35, .12, .50, .24, .39, .16, .30, .46, .21,
  .36, .19, .52, .27, .43, .22, .58, .31, .25, .47,
  .33, .60, .28, .41, .55, .35, .64, .48, .38, .70,
  .45, .32, .58, .42, .66, .37, .52, .75, .40, .62,
  .48, .35, .68, .55, .44, .78, .50, .38, .60, .72,
  .46, .82, .56, .42, .65, .52, .88, .48, .70, 1.25,
  .58, .45, .76, .62, .90, .50, .68, .55, .85, .64,
  .72, .52, .95, .60, .78, .48, .88, .66, 1.02, .58,
  .80, .70, .96, .62, 1.10, .75, .55, .92, .85, 1.18,
  .72, 1.05, .88, .65, 1.22, .95, 1.48, .82, 1.12, .78,
  1.30, .98, 1.58, .86, 1.20, 1.05, 1.42, .92, 1.35, 1.62,
  1.15, 1.45, .95, 1.28, 1.52, 1.38, 1.70, 1.10, 1.60, 1.32,
  1.48, 1.85, 1.25, 1.55, 1.40, 1.68, 1.18, 1.75, 1.45, 1.95,
  1.30, 1.62, 2.05, 1.50, 1.22, 1.80, 1.42, 1.65, .95, 1.90,
  1.35, 1.72, 1.52, 1.28, 1.98, 1.60, 1.45, 1.82, 1.15, 1.70,
  1.38, 2.02, 1.55, 1.25, 1.78, 1.48, 1.65, .88, 1.92, 1.40,
  1.58, 1.32, 1.85, 1.20, 1.68, 1.45, 1.05, 1.75, 1.28, 1.55,
  .85, 1.62, 1.38, 1.88, 1.12, 1.50, .92, 1.70, 1.30, 1.42,
  1.60, 1.18, 1.82, 1.35, 1.55, 1.92, 1.25, 1.48, 1.08, 1.72,
  1.40, 1.58, 1.15, 1.85, 1.30, 1.52, .98, 1.45, 1.22, 1.65,
  1.10, 1.35, 1.50, .92, 1.28, 1.42, 1.05, 1.20, .88, 1.32,
  1.00, 1.15, .82, 1.25, .95, 1.08, .78, 1.18, .90, 1.02,
  .72, .95, 1.10, .80, .68, 1.00, .85, .62, 1.05, .76,
  .92, .60, .82, 1.02, .70, .55, .88, .75, .98, .58,
  .80, .65, .52, .90, .72, .60, .85, .48, .76, .62,
  .70, .55, .95, .45, .68, .58, 1.15, .50, .62, .75,
  .42, .56, .48, .65, .38, .52, .60, .35, .46, .55,
  .32, .50, .40, .58, .28, .44, .36, .52, .25, .40,
  .48, .30, .38, .22, .45, .33, .42, .18, .35, .28,
  .40, .20, .32, .15, .36, .26, .12, .30, .22, .38,
  .16, .28, .10, .33, .20, .06, .25, .14, .30, .08,
  .22, .35, .12, .04, .18
]
const bismarckE2 = [
  .20, .08, .14, .30, .04, .18, .26, .10, .02, .22,
  .16, .34, .06, .12, .28, .09, .21, .03, .18, .40,
  .11, .24, .07, .32, .15, .05, .26, .20, .36, .12,
  .22, .08, .30, .18, .44, .14, .25, .10, .34, .20,
  .38, .16, .28, .12, .42, .24, .19, .50, .22, .31,
  .14, .40, .26, .35, .20, .48, .28, .18, .38, .30,
  .44, .24, .34, .56, .28, .40, .20, .36, .52, .32,
  .42, .30, .50, .38, .46, .62, .40, .55, .36, .48,
  .58, .42, .50, .38, .68, .46, .40, .60, .52, .44,
  .36, .56, .48, .62, .42, .54, .70, .46, .40, .58,
  .64, .50, .44, .72, .55, .48, .62, .80, .52, .58,
  .48, .68, .56, .92, .60, .52, .74, .64, .58, .82,
  .55, .70, .62, .86, .66, .58, 1.05, .74, .64, .90,
  .68, .84, .60, 1.12, .76, .70, .96, .82, .66, 1.02,
  .86, .74, 1.28, .92, .80, 1.10, .96, .88, 1.36, .98,
  1.05, .92, 1.18, 1.48, .98, 1.12, 1.28, .90, 1.55, 1.22,
  1.38, 1.02, 1.62, 1.25, 1.45, 1.80, 1.18, 1.50, 1.35, 1.72,
  1.28, 1.58, 1.92, 1.40, 1.65, 1.22, 1.85, 1.50, 1.32, 2.00,
  1.55, 1.42, 1.75, 1.15, 1.62, 1.95, 1.38, 1.70, 1.48, 1.25,
  1.82, 1.58, 1.30, 1.68, 2.00, 1.45, 1.20, 1.78, 1.62, 1.88,
  1.50, 1.72, 1.35, 1.95, 1.60, 1.28, 1.82, 1.48, 1.70, 1.22,
  1.62, 1.38, 1.90, 1.05, 1.55, 1.78, 1.32, 1.65, .98, 1.50,
  1.72, 1.20, .90, 1.58, 1.35, 1.80, 1.10, 1.62, 1.40, 1.92,
  1.25, 1.52, 1.70, 1.15, 1.45, 1.65, 1.30, 1.85, 1.20, 1.58,
  1.35, 1.75, 1.10, 1.50, 1.28, 1.62, 1.02, 1.40, 1.55, 1.15,
  1.38, 1.02, 1.25, 1.45, .95, 1.18, 1.30, .88, 1.12, 1.40,
  .92, 1.22, 1.05, .85, 1.15, .98, 1.28, .80, 1.05, .92,
  1.12, .85, .75, 1.02, .90, .70, .96, .82, .66, .88,
  .78, .95, .64, .82, .72, .90, .62, .78, .68, .55,
  .85, .70, .58, .78, .64, .52, .80, .66, .56, .72,
  .60, .50, .68, .58, .82, .48, .62, .54, .44, .66,
  .52, .60, .40, .50, .58, .45, .36, .54, .48, .40,
  .46, .34, .52, .42, .30, .48, .38, .44, .32, .36,
  .26, .42, .34, .40, .28, .36, .24, .32, .38, .20,
  .30, .25, .34, .18, .28, .22, .32, .14, .26, .20,
  .24, .12, .30, .18, .22, .10, .26, .16, .08, .20,
  .14, .28, .06, .18, .10
]
// running estimate line [yearday, e]
const miamiELine = [
  [0, .95], [3, 1.02], [6, 1.08], [9, 1.05], [12, 1.12], [14, 1.08], [16, 1.30], [18, 1.10],
  [20, 1.05], [23, 1.00], [26, .92], [29, .80], [31, .78], [33, .92], [35, 1.10], [37, 1.02],
  [40, 1.00], [43, 1.05], [45, .98], [47, .85], [49, .78], [51, .80], [53, 1.05], [55, 1.38],
  [57, 1.25], [59, 1.00], [61, .82], [63, .75], [65, .78], [67, .70], [69, .72], [71, 1.05],
  [72, 1.85], [74, 1.60], [76, 1.48], [78, 1.72], [80, 1.85], [82, 1.55], [84, 1.20], [86, 1.15],
  [88, 1.30], [90, 1.72], [92, 1.50], [94, 1.38], [96, 1.45], [98, 1.28], [100, 1.30], [103, 1.28],
  [106, 1.35], [108, 1.48], [110, 1.60], [113, 1.58], [116, 1.62], [119, 1.65], [122, 1.62], [125, 1.72],
  [127, 1.70], [129, 2.25], [131, 2.15], [133, 2.45], [135, 2.62], [137, 2.05], [139, 1.98], [141, 1.85],
  [143, 1.62], [145, 1.90], [147, 2.10], [149, 2.25], [151, 2.05], [153, 2.15], [155, 2.20], [157, 2.40],
  [159, 2.55], [161, 2.48], [163, 2.52], [165, 2.45], [167, 2.60], [169, 2.55], [171, 2.62], [173, 2.78],
  [175, 2.85], [177, 2.88], [180, 2.80], [182, 2.85], [185, 2.88], [188, 2.70], [190, 2.82], [192, 2.90],
  [195, 2.78], [197, 2.88], [200, 2.92], [202, 2.75], [205, 2.85], [208, 2.80], [210, 2.95], [212, 2.78],
  [215, 2.85], [218, 2.82], [220, 2.90], [222, 2.98], [225, 2.80], [228, 2.78], [230, 2.88], [233, 2.82],
  [236, 2.75], [238, 2.85], [241, 2.90], [244, 2.80], [247, 2.85], [250, 2.75], [253, 2.88], [256, 2.80],
  [259, 2.72], [262, 2.85], [265, 2.78], [268, 2.70], [271, 2.65], [273, 2.75], [275, 2.92], [277, 2.88],
  [278, 2.15], [280, 1.95], [282, 2.05], [284, 1.82], [286, 1.75], [288, 1.62], [290, 1.70], [292, 1.58],
  [294, 1.82], [296, 1.78], [298, 1.95], [299, 2.45], [301, 2.48], [302, 1.85], [304, 1.72], [306, 1.55],
  [308, 1.30], [310, 1.22], [312, 1.35], [314, 1.40], [316, 1.48], [318, 1.42], [320, 1.38], [322, 1.50],
  [324, 1.72], [326, 2.05], [328, 1.95], [330, 1.75], [332, 1.62], [334, 1.55], [336, 1.30], [338, 1.20],
  [340, 1.02], [342, 1.00], [344, 1.05], [346, 1.00], [348, 1.02], [350, 1.35], [352, 1.62], [354, 1.82],
  [356, 1.45], [358, 1.00], [360, .95], [362, .92], [364, .95], [366, .90]
]
const bismarckELine = [
  [0, .08], [3, .04], [6, .10], [9, .05], [12, .12], [15, .06], [18, .03], [21, .10], [24, .06],
  [27, .02], [30, .08], [33, .12], [36, .15], [39, .10], [42, .18], [45, .14], [48, .12], [51, .20],
  [54, .16], [57, .18], [60, .22], [63, .20], [66, .25], [69, .22], [72, .28], [75, .32], [77, .55],
  [79, .45], [81, .38], [84, .35], [87, .40], [90, .32], [93, .30], [96, .36], [99, .33], [102, .40],
  [105, .36], [108, .45], [111, .38], [114, .34], [117, .42], [120, .48], [123, .44], [126, .52],
  [129, .46], [132, .40], [135, .50], [138, .55], [141, .62], [144, .58], [147, .68], [150, .72],
  [153, .65], [156, .80], [159, .85], [161, .78], [163, 1.18], [165, 1.05], [167, 1.25], [169, 1.20],
  [171, 1.35], [173, 1.28], [175, 1.55], [177, 1.42], [179, 1.25], [181, 1.30], [184, 1.22], [187, 1.28],
  [190, 1.20], [193, 1.32], [196, 1.38], [198, 1.45], [200, 1.58], [202, 1.35], [204, 1.25], [206, 1.40],
  [208, 1.48], [210, 1.30], [212, 1.22], [214, 1.15], [216, 1.05], [218, .92], [220, .78], [222, .76],
  [224, .80], [226, .76], [228, .95], [230, 1.05], [232, 1.12], [234, .98], [236, .92], [238, 1.00],
  [240, 1.15], [242, 1.25], [244, 1.18], [246, .95], [248, .88], [250, .90], [253, .82], [256, .85],
  [259, .76], [262, .78], [265, .70], [268, .72], [271, .66], [274, .68], [277, .62], [280, .64],
  [283, .58], [286, .60], [289, .55], [292, .56], [295, .52], [298, .54], [301, .48], [304, .50],
  [307, .44], [310, .46], [313, .40], [316, .42], [319, .36], [322, .38], [325, .32], [328, .35],
  [331, .28], [334, .30], [337, .24], [340, .26], [343, .20], [346, .22], [349, .16], [352, .18],
  [355, .12], [358, .15], [361, .10], [364, .12], [366, .08]
]

// ---- layout ----
const fontFamily = '"Liberation Sans", Arial, Helvetica, sans-serif'
const colLeft = [66.7, 465]
const colWidth = 293.3
const rowTop = [37, 192.7, 349.3]
const rowHeight = [146, 148.3, 146.4]

const dots = [
  [[miamiR, miamiR2], [miamiT, miamiT2], [miamiE, miamiE2]],
  [[bismarckR, bismarckR2], [bismarckT, bismarckT2], [bismarckE, bismarckE2]]
]
const lines = [
  [miamiRClear, miamiTMax, miamiELine],
  [bismarckRClear, bismarckTMax, bismarckELine]
]

// endLabels: the end labels of the e axis sit inside the frame, on their own axis
const yspecs = [
  {
    min: 0, max: 45, interval: 10, minor: 5, showMax: false, vMin: 'middle', gap: 35, pad: [0, 0, 0, 14],
    fmt: v => String(Math.round(v)), endLabels: false,
    name: '{t|R (MJ m}{s|-2}{t| day}{s|-1}{t|)}'
  },
  {
    min: 0, max: 0.85, interval: 0.2, minor: 4, showMax: false, vMin: 'bottom', gap: 40, pad: 0,
    fmt: v => v.toFixed(1), endLabels: false,
    name: '{t|T}{b|t}'
  },
  {
    min: 0, max: 3.5, interval: 0.5, minor: 5, showMax: null, vMin: 'bottom', gap: 35, pad: 0,
    fmt: v => (v === 0 || v === 3.5) ? '' : v.toFixed(1), endLabels: true,
    name: '{t|e (kPa)}'
  }
]

const black = { color: '#000', width: 1 }
const nameRich = {
  t: { fontSize: 20, fontFamily, color: '#000' },
  s: { fontSize: 12, fontFamily, color: '#000', verticalAlign: 'top' },
  b: { fontSize: 12, fontFamily, color: '#000', verticalAlign: 'bottom' }
}

function xAxisFor(g, row, pos) {
  const withLabels = pos === 'bottom' && row === 2
  return {
    type: 'value', gridIndex: g, position: pos,
    min: 0, max: 366, interval: 100,
    axisLine: { show: true, onZero: false, lineStyle: black },
    axisTick: { show: true, inside: true, length: 5, lineStyle: black },
    minorTick: { show: true, splitNumber: 10, length: 2.5, lineStyle: black },
    splitLine: { show: false },
    axisLabel: {
      show: withLabels, margin: 9, fontSize: 19, color: '#000', fontFamily,
      showMaxLabel: false
    },
    name: withLabels ? 'yearday' : '',
    nameLocation: 'middle', nameGap: 27,
    nameTextStyle: { fontSize: 21, color: '#000', fontFamily }
  }
}

function yAxisFor(g, row, pos) {
  const spec = yspecs[row]
  const isLeft = pos === 'left'
  return {
    type: 'value', gridIndex: g, position: pos,
    min: spec.min, max: spec.max, interval: spec.interval,
    axisLine: { show: true, onZero: false, lineStyle: black },
    axisTick: { show: true, inside: true, length: 5, lineStyle: black },
    minorTick: { show: true, splitNumber: spec.minor, length: 2.5, lineStyle: black },
    splitLine: { show: false },
    axisLabel: {
      show: isLeft, margin: 5, fontSize: 19, color: '#000', fontFamily,
      formatter: spec.fmt, showMaxLabel: spec.showMax,
      verticalAlignMinLabel: spec.vMin, verticalAlignMaxLabel: 'top'
    },
    name: isLeft ? spec.name : '',
    nameLocation: 'middle', nameGap: spec.gap,
    nameTextStyle: { color: '#000', fontFamily, padding: spec.pad, rich: nameRich }
  }
}

// extra label-only axis carrying just the bottom and top values of a panel
function endLabelAxis(g, row) {
  const spec = yspecs[row]
  return {
    type: 'value', gridIndex: g, position: 'left', offset: 0,
    min: spec.min, max: spec.max, interval: spec.interval,
    axisLine: { show: false }, axisTick: { show: false }, minorTick: { show: false },
    splitLine: { show: false },
    axisLabel: {
      show: true, margin: 5, fontSize: 19, lineHeight: 12, color: '#000', fontFamily,
      formatter: v => (v === spec.min || v === spec.max) ? v.toFixed(1) : '',
      showMinLabel: true, showMaxLabel: true,
      verticalAlignMinLabel: 'bottom', verticalAlignMaxLabel: 'top'
    }
  }
}

const grid = []
const xAxis = []
const yAxis = []
const series = []
const graphic = []

for (let c = 0; c < 2; c++) {
  graphic.push({
    type: 'text', x: colLeft[c] + 149, y: 9,
    style: { text: sites[c], font: '22px ' + fontFamily, fill: '#000', textAlign: 'center', textVerticalAlign: 'top' }
  })
  for (let r = 0; r < 3; r++) {
    const g = c * 3 + r
    grid.push({ left: colLeft[c], top: rowTop[r], width: colWidth, height: rowHeight[r], containLabel: false })
    const xIdx = xAxis.length
    xAxis.push(xAxisFor(g, r, 'bottom'), xAxisFor(g, r, 'top'))
    const yIdx = yAxis.length
    yAxis.push(yAxisFor(g, r, 'left'), yAxisFor(g, r, 'right'))
    if (yspecs[r].endLabels) yAxis.push(endLabelAxis(g, r))
    const pts = []
    dots[c][r].forEach(year => year.forEach((v, i) => pts.push([i + 1, v])))
    series.push({
      type: 'scatter', xAxisIndex: xIdx, yAxisIndex: yIdx,
      data: pts,
      symbol: 'rect', symbolSize: 2,
      itemStyle: { color: '#111' },
      silent: true
    })
    series.push({
      type: 'line', xAxisIndex: xIdx, yAxisIndex: yIdx,
      data: lines[c][r],
      smooth: r === 0,
      showSymbol: false,
      lineStyle: { color: '#000', width: 1.2 },
      silent: true
    })
    graphic.push({
      type: 'text', x: colLeft[c] + 281, y: rowTop[r] + 1,
      style: { text: panelLetters[r], font: '16px ' + fontFamily, fill: '#000', textAlign: 'left', textVerticalAlign: 'top' }
    })
  }
}

const myChart = echarts.init(document.getElementById('chart'), null, { renderer: 'canvas' })
myChart.setOption({
  backgroundColor: '#fff',
  animation: false,
  grid,
  xAxis,
  yAxis,
  series,
  graphic
})
</script>
</body>
</html>
